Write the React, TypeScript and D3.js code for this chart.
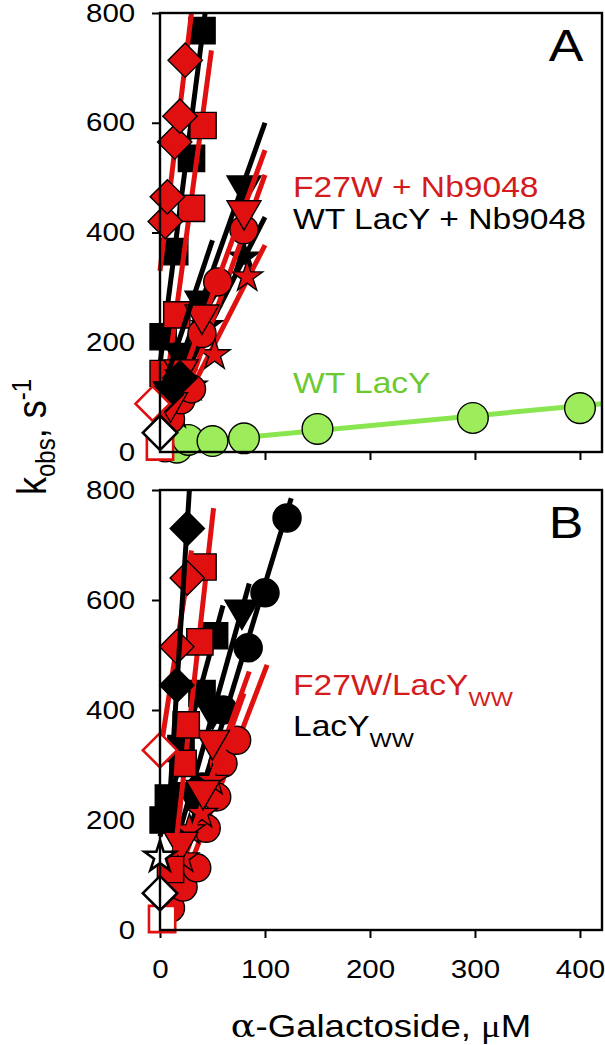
import { useEffect, useRef } from 'react';
import * as d3 from 'd3';

const xTicks = [0, 100, 200, 300, 400];
const yTicks = [0, 200, 400, 600, 800];

// fit arrays are the drawn regression lines: [x0, y0, x1, y1] in data units

// ---- Panel A, WT LacY without nanobody (green)
const aWtX = [5, 16, 27, 50, 80, 150, 298, 400];
const aWtY = [10, 8, 22, 20, 25, 42, 62, 80];
const aWtFit = [0, 12, 421, 88];

// ---- Panel A, WT LacY + Nb9048 (black)
const aWtSqX = [3, 14, 30, 40];
const aWtSqY = [210, 365, 535, 768];
const aWtSqFit = [0, 160, 43, 800];
const aWtTriX = [10, 20, 40, 80];
const aWtTriY = [110, 180, 275, 485];
const aWtTriFit = [0, 60, 100, 600];
const aWtStarX = [20, 45, 80];
const aWtStarY = [140, 230, 355];
const aWtStarFit = [5, 70, 100, 428];
const aWtDiaX = [6, 19];
const aWtDiaY = [105, 135];
const aWtDiaFit = [0, 100, 50, 386];

// ---- Panel A, F27W + Nb9048 (red)
const aF27DiaX = [5, 7, 14, 19, 24];
const aF27DiaY = [420, 465, 565, 612, 714];
const aF27DiaFit = [0, 330, 30, 800];
const aF27SqX = [3, 16, 30, 41];
const aF27SqY = [143, 250, 444, 595];
const aF27SqFit = [8, 150, 49, 732];
const aF27TriX = [10, 20, 40, 80];
const aF27TriY = [90, 150, 250, 440];
const aF27TriFit = [5, 50, 100, 550];
const aF27CirX = [10, 20, 30, 40, 55, 80];
const aF27CirY = [60, 95, 115, 216, 310, 405];
const aF27CirFit = [5, 0, 100, 505];
const aF27StarX = [15, 30, 52, 83];
const aF27StarY = [70, 120, 177, 319];
const aF27StarFit = [10, 40, 100, 377];

// ---- Panel A, open symbols near zero
const aOpenRedDiaX = [-7];
const aOpenRedDiaY = [88];
const aOpenBlkDiaX = [0];
const aOpenBlkDiaY = [35];
const aOpenRedSqX = [0];
const aOpenRedSqY = [10];

// ---- Panel B, LacYWW (black)
const bWwDiaX = [16, 26];
const bWwDiaY = [445, 730];
const bWwDiaFit = [8, 200, 28, 800];
const bWwSqX = [3, 8, 20, 40, 52];
const bWwSqY = [200, 240, 330, 430, 535];
const bWwSqFit = [0, 170, 60, 590];
const bWwCirX = [40, 60, 84, 100, 121];
const bWwCirY = [260, 400, 513, 613, 749];
const bWwCirFit = [20, 130, 125, 785];
const bWwTriX = [30, 50, 78];
const bWwTriY = [250, 400, 582];
const bWwTriFit = [10, 120, 85, 630];

// ---- Panel B, F27W/LacYWW (red)
const bF27DiaX = [16, 26];
const bF27DiaY = [515, 640];
const bF27DiaFit = [0, 320, 30, 690];
const bF27SqX = [10, 22, 25, 38, 41];
const bF27SqY = [110, 303, 373, 524, 660];
const bF27SqFit = [6, 0, 51, 767];
const bF27CirX = [10, 22, 35, 44, 54, 60, 73];
const bF27CirY = [40, 78, 113, 185, 242, 303, 345];
const bF27CirFit = [5, 0, 102, 482];
const bF27TriX = [20, 41, 50];
const bF27TriY = [160, 254, 345];
const bF27TriFit = [5, 40, 85, 470];
const bF27StarX = [22, 28, 40, 50];
const bF27StarY = [131, 182, 212, 272];
const bF27StarFit = [10, 60, 80, 430];

// ---- Panel B, open symbols near zero
const bOpenRedDiaX = [0];
const bOpenRedDiaY = [327];
const bOpenBlkStarX = [0];
const bOpenBlkStarY = [133];
const bOpenBlkDiaX = [0];
const bOpenBlkDiaY = [67];
const bOpenRedSqX = [2];
const bOpenRedSqY = [20];

const RED = '#e01010';
const RED_TEXT = '#d41c1c';
const GREEN_FILL = '#9cec5c';
const GREEN_LINE = '#8ae650';
const GREEN_TEXT = '#6cc930';
const FONT = 'Arial, "Liberation Sans", sans-serif';

type Series = {
  x: number[];
  y: number[];
  fit?: number[];
  shape: string;
  fill: string;
  stroke: string;
  line?: string;
};

const panelA: Series[] = [
  { x: aWtX, y: aWtY, fit: aWtFit, shape: 'big', fill: GREEN_FILL, stroke: '#000', line: GREEN_LINE },
  { x: aWtSqX, y: aWtSqY, fit: aWtSqFit, shape: 'square', fill: '#000', stroke: '#000', line: '#000' },
  { x: aF27SqX, y: aF27SqY, fit: aF27SqFit, shape: 'square', fill: RED, stroke: '#000', line: RED },
  { x: aF27DiaX, y: aF27DiaY, fit: aF27DiaFit, shape: 'diamond', fill: RED, stroke: '#000', line: RED },
  { x: aWtStarX, y: aWtStarY, fit: aWtStarFit, shape: 'star', fill: '#000', stroke: '#000', line: '#000' },
  { x: aWtTriX, y: aWtTriY, fit: aWtTriFit, shape: 'tri', fill: '#000', stroke: '#000', line: '#000' },
  { x: aF27StarX, y: aF27StarY, fit: aF27StarFit, shape: 'star', fill: RED, stroke: '#000', line: RED },
  { x: aF27CirX, y: aF27CirY, fit: aF27CirFit, shape: 'circle', fill: RED, stroke: '#000', line: RED },
  { x: aF27TriX, y: aF27TriY, fit: aF27TriFit, shape: 'tri', fill: RED, stroke: '#000', line: RED },
  { x: aWtDiaX, y: aWtDiaY, fit: aWtDiaFit, shape: 'diamond', fill: '#000', stroke: '#000', line: '#000' },
  { x: aOpenRedDiaX, y: aOpenRedDiaY, shape: 'diamond', fill: '#fff', stroke: RED },
  { x: aOpenRedSqX, y: aOpenRedSqY, shape: 'square', fill: '#fff', stroke: RED },
  { x: aOpenBlkDiaX, y: aOpenBlkDiaY, shape: 'diamond', fill: '#fff', stroke: '#000' },
];

const panelB: Series[] = [
  { x: bWwCirX, y: bWwCirY, fit: bWwCirFit, shape: 'circle', fill: '#000', stroke: '#000', line: '#000' },
  { x: bWwTriX, y: bWwTriY, fit: bWwTriFit, shape: 'tri', fill: '#000', stroke: '#000', line: '#000' },
  { x: bWwSqX, y: bWwSqY, fit: bWwSqFit, shape: 'square', fill: '#000', stroke: '#000', line: '#000' },
  { x: bF27CirX, y: bF27CirY, fit: bF27CirFit, shape: 'circle', fill: RED, stroke: '#000', line: RED },
  { x: bF27StarX, y: bF27StarY, fit: bF27StarFit, shape: 'star', fill: RED, stroke: '#000', line: RED },
  { x: bF27TriX, y: bF27TriY, fit: bF27TriFit, shape: 'tri', fill: RED, stroke: '#000', line: RED },
  { x: bF27SqX, y: bF27SqY, fit: bF27SqFit, shape: 'square', fill: RED, stroke: '#000', line: RED },
  { x: bF27DiaX, y: bF27DiaY, fit: bF27DiaFit, shape: 'diamond', fill: RED, stroke: '#000', line: RED },
  { x: bWwDiaX, y: bWwDiaY, fit: bWwDiaFit, shape: 'diamond', fill: '#000', stroke: '#000', line: '#000' },
  { x: bOpenRedDiaX, y: bOpenRedDiaY, shape: 'diamond', fill: '#fff', stroke: RED },
  { x: bOpenBlkStarX, y: bOpenBlkStarY, shape: 'star', fill: '#fff', stroke: '#000' },
  { x: bOpenRedSqX, y: bOpenRedSqY, shape: 'square', fill: '#fff', stroke: RED },
  { x: bOpenBlkDiaX, y: bOpenBlkDiaY, shape: 'diamond', fill: '#fff', stroke: '#000' },
];

const W = 605;
const H = 1045;
const SX = 1.18; // the original figure is stretched horizontally

function symbolPath(shape: string) {
  switch (shape) {
    case 'square':
      return { d: d3.symbol().type(d3.symbolSquare).size(690)()!, rot: 0 };
    case 'diamond':
      return { d: d3.symbol().type(d3.symbolSquare).size(590)()!, rot: 45 };
    case 'tri':
      return { d: d3.symbol().type(d3.symbolTriangle).size(500)()!, rot: 180 };
    case 'star':
      return { d: d3.symbol().type(d3.symbolStar).size(300)()!, rot: 0 };
    case 'big':
      return { d: d3.symbol().type(d3.symbolCircle).size(740)()!, rot: 0 };
    default:
      return { d: d3.symbol().type(d3.symbolCircle).size(620)()!, rot: 0 };
  }
}

export default function App() {
  const ref = useRef<SVGSVGElement>(null);

  useEffect(() => {
    if (!ref.current) return;
    document.body.style.margin = '0';
    const svg = d3.select(ref.current);
    svg.selectAll('*').remove();

    const x = d3.scaleLinear().domain([0, 421]).range([160, 602]);

    const drawPanel = (series: Series[], top: number, bottom: number, letter: string, labels: boolean) => {
      const y = d3.scaleLinear().domain([0, 800]).range([bottom, top]);
      const g = svg.append('g');

      // y axis ticks + labels
      const ya = g.append('g').attr('transform', `translate(${x.range()[0]},0)`)
        .call(d3.axisLeft(y).tickValues(yTicks).tickSize(8).tickPadding(4));
      ya.select('.domain').remove();
      ya.selectAll('line').attr('stroke', '#000').attr('stroke-width', 2);
      ya.selectAll('text')
        .attr('x', -21)
        .attr('transform', `scale(${SX},1)`)
        .style('font-family', FONT)
        .style('font-size', '25px')
        .attr('fill', '#000');

      // x axis ticks (labels only under panel B)
      const xa = g.append('g').attr('transform', `translate(0,${bottom})`)
        .call(d3.axisBottom(x).tickValues(xTicks).tickSize(8).tickPadding(22)
          .tickFormat(labels ? (d3.format('d') as any) : () => ''));
      xa.select('.domain').remove();
      xa.selectAll('line').attr('stroke', '#000').attr('stroke-width', 2);
      xa.selectAll('text')
        .attr('transform', `scale(${SX},1)`)
        .style('font-family', FONT)
        .style('font-size', '25px')
        .attr('fill', '#000');

      // data
      const line = d3.line<number[]>().x(d => x(d[0])).y(d => y(d[1]));
      series.forEach(s => {
        if (s.fit && s.line) {
          g.append('path')
            .attr('d', line([[s.fit[0], s.fit[1]], [s.fit[2], s.fit[3]]]))
            .attr('stroke', s.line)
            .attr('stroke-width', 5)
            .attr('fill', 'none');
        }
        const sym = symbolPath(s.shape);
        const open = s.fill === '#fff';
        g.append('g').selectAll('path')
          .data(s.x.map((v, i) => [v, s.y[i]]))
          .join('path')
          .attr('d', sym.d)
          .attr('transform', d => `translate(${x(d[0])},${y(d[1])}) rotate(${sym.rot})`)
          .attr('fill', s.fill)
          .attr('stroke', s.stroke)
          .attr('stroke-width', open ? 2.6 : 1.4);
      });

      // frame
      g.append('rect')
        .attr('x', x.range()[0]).attr('y', top)
        .attr('width', x.range()[1] - x.range()[0]).attr('height', bottom - top)
        .attr('fill', 'none').attr('stroke', '#000').attr('stroke-width', 2.4);

      // panel letter
      g.append('text')
        .attr('transform', `translate(566,${top + 48}) scale(${SX},1)`)
        .attr('text-anchor', 'middle')
        .style('font-family', FONT)
        .style('font-size', '44px')
        .attr('fill', '#000')
        .text(letter);
    };

    drawPanel(panelA, 13, 452, 'A', false);
    drawPanel(panelB, 490, 930, 'B', true);

    const label = (tx: number, ty: number, color: string, main: string, sub?: string) => {
      const t = svg.append('text')
        .attr('transform', `translate(${tx},${ty}) scale(1.12,1)`)
        .style('font-family', FONT)
        .style('font-size', '30px')
        .attr('fill', color);
      t.append('tspan').text(main);
      if (sub) t.append('tspan').attr('dy', 11).style('font-size', '21px').text(sub);
    };
    label(293, 197, RED_TEXT, 'F27W + Nb9048');
    label(293, 229, '#000', 'WT LacY + Nb9048');
    label(293, 393, GREEN_TEXT, 'WT LacY');
    label(293, 695, RED_TEXT, 'F27W/LacY', 'WW');
    label(293, 736, '#000', 'LacY', 'WW');

    // x title
    const xt = svg.append('text')
      .attr('transform', `translate(381,1037) scale(${SX},1)`)
      .attr('text-anchor', 'middle')
      .style('font-family', FONT)
      .style('font-size', '31px')
      .attr('fill', '#000');
    xt.append('tspan').style('font-family', '"DejaVu Serif", "Liberation Serif", serif').text('α');
    xt.append('tspan').text('-Galactoside, ');
    xt.append('tspan').style('font-family', '"Liberation Serif", serif').text('μ');
    xt.append('tspan').text('M');

    // y title
    const yt = svg.append('text')
      .attr('transform', `translate(46,437) rotate(-90) scale(1,1.12)`)
      .attr('text-anchor', 'middle')
      .style('font-family', FONT)
      .style('font-size', '36px')
      .attr('fill', '#000');
    yt.append('tspan').text('k');
    yt.append('tspan').attr('dy', 8).style('font-size', '24px').text('obs');
    yt.append('tspan').attr('dy', -8).text(', s');
    yt.append('tspan').attr('dy', -13).style('font-size', '24px').text('-1');
  }, []);

  return <svg ref={ref} width={W} height={H} style={{ display: 'block', background: '#fff' }} />;
}
